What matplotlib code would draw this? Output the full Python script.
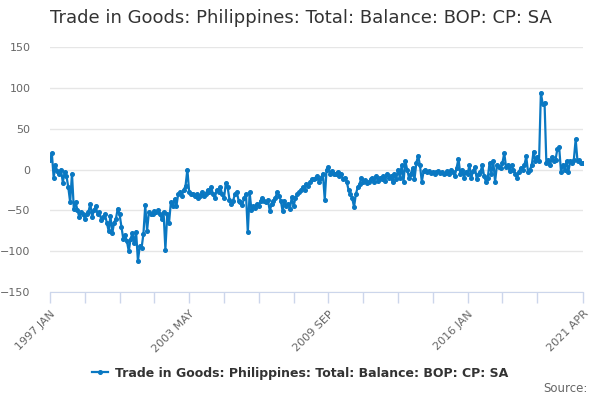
import matplotlib
matplotlib.use("Agg")
import matplotlib.pyplot as plt

title = "Trade in Goods: Philippines: Total: Balance: BOP: CP: SA"
series_name = "Trade in Goods: Philippines: Total: Balance: BOP: CP: SA"

# monthly values, 1997 JAN .. 2021 APR
y1997 = [12, 20, -10, 5, -2, -5, 0, -16, -3, -8, -22, -40]
y1998 = [-5, -48, -40, -50, -58, -52, -55, -60, -55, -52, -42, -58]
y1999 = [-50, -45, -55, -52, -62, -58, -55, -65, -75, -57, -78, -65]
y2000 = [-60, -48, -55, -70, -85, -80, -88, -100, -85, -78, -90, -76]
y2001 = [-112, -94, -96, -79, -44, -75, -52, -55, -55, -51, -52, -50]
y2002 = [-55, -60, -52, -98, -55, -65, -40, -45, -36, -45, -30, -28]
y2003 = [-32, -25, -20, 0, -28, -30, -30, -32, -30, -35, -32, -28]
y2004 = [-33, -30, -25, -28, -22, -30, -35, -25, -27, -22, -30, -35]
y2005 = [-17, -22, -37, -42, -38, -30, -28, -38, -40, -43, -35, -30]
y2006 = [-77, -28, -50, -45, -47, -42, -45, -38, -35, -38, -40, -37]
y2007 = [-51, -42, -38, -35, -28, -32, -38, -51, -38, -45, -42, -48]
y2008 = [-34, -45, -35, -30, -28, -25, -22, -25, -18, -20, -15, -12]
y2009 = [-12, -10, -8, -15, -10, -5, -37, 0, 3, -5, -2, -6]
y2010 = [-5, -3, -8, -5, -12, -10, -15, -25, -30, -35, -46, -30]
y2011 = [-22, -18, -10, -15, -13, -17, -15, -12, -10, -15, -8, -14]
y2012 = [-10, -12, -8, -14, -5, -10, -8, -15, -5, -12, 0, -10]
y2013 = [5, -15, 10, 0, -10, -5, 2, -12, 8, 17, 5, -15]
y2014 = [-2, 0, -3, -2, -4, -3, -5, -3, -2, -4, -3, -6]
y2015 = [-4, -2, -5, 0, -3, -8, 2, 13, -5, 0, -10, -3]
y2016 = [-5, 5, -10, -2, 3, -12, -5, -3, 5, -8, -15, -10]
y2017 = [8, -5, 10, -15, 5, 3, 2, 8, 20, 3, 5, -2]
y2018 = [5, 0, -5, -10, -3, 2, 0, 5, 16, -3, 0, 5]
y2019 = [22, 10, 15, 10, 94, 80, 82, 8, 12, 5, 15, 10]
y2020 = [12, 25, 27, -3, 5, 0, 10, -3, 10, 8, 12, 37]
y2021 = [10, 12, 8, 8]

values = (y1997 + y1998 + y1999 + y2000 + y2001 + y2002 + y2003 + y2004
          + y2005 + y2006 + y2007 + y2008 + y2009 + y2010 + y2011 + y2012
          + y2013 + y2014 + y2015 + y2016 + y2017 + y2018 + y2019 + y2020
          + y2021)

months = ["JAN", "FEB", "MAR", "APR", "MAY", "JUN",
          "JUL", "AUG", "SEP", "OCT", "NOV", "DEC"]
labels = ["%d %s" % (1997 + i // 12, months[i % 12]) for i in range(len(values))]
x = list(range(len(values)))

color = "#0a78c2"
plt.rcParams["font.family"] = "DejaVu Sans"

fig = plt.figure(figsize=(6, 4), dpi=100)
ax = fig.add_axes([50 / 600, 1 - 292 / 400, 533 / 600, 245 / 400])

ax.plot(x, values, color=color, lw=1.6, marker="o", ms=2.6, zorder=3)

ax.set_xlim(0, len(values) - 1)
ax.set_ylim(-150, 150)
ax.set_yticks([-150, -100, -50, 0, 50, 100, 150])
ax.grid(axis="y", color="#e6e6e6", lw=1)
ax.set_axisbelow(True)
ax.tick_params(axis="y", length=0, labelsize=8, labelcolor="#666666", pad=14)

# minor ticks every 19 months, labelled ticks every 76 and the last month
minor = list(range(0, len(values) - 19, 19))
ax.set_xticks(minor, minor=True)
major = [0, 76, 152, 228, len(values) - 1]
ax.set_xticks(major)
ax.set_xticklabels([labels[i] for i in major], rotation=45, ha="right",
                   rotation_mode="anchor")
ax.tick_params(axis="x", which="both", length=8, color="#ccd6eb", width=1,
               labelsize=8, labelcolor="#666666", pad=4)

for side in ["top", "right", "left"]:
    ax.spines[side].set_visible(False)
ax.spines["bottom"].set_color("#ccd6eb")

fig.text(50 / 600, 1 - 18 / 400, title, fontsize=13, color="#333333",
         va="center", ha="left")

leg = fig.legend([ax.lines[0]], [series_name], loc="center",
                 bbox_to_anchor=(0.5, 1 - 373 / 400), frameon=False,
                 prop={"weight": "bold", "size": 9}, handlelength=1.3,
                 handletextpad=0.5)
for t in leg.get_texts():
    t.set_color("#333333")

fig.text(588 / 600, 1 - 389 / 400, "Source:", fontsize=8.5, color="#666666",
         ha="right", va="center")

fig.savefig("out.png", dpi=100)
